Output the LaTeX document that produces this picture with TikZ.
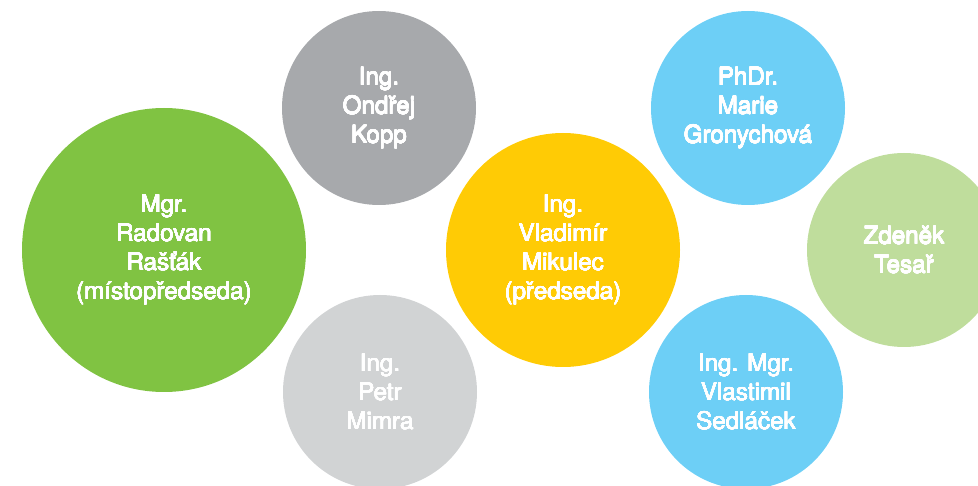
\documentclass[tikz,border=0pt]{standalone}
\usepackage{fontspec}
\setmainfont{TeX Gyre Heros}
\usepackage[copies]{contour}
\contourlength{0.2pt}
\contournumber{16}
\newcommand{\bl}[1]{\contour{white}{#1}}
\definecolor{cgreen}{HTML}{80C342}
\definecolor{cgray}{HTML}{A7A9AC}
\definecolor{clgray}{HTML}{D1D3D4}
\definecolor{cyellow}{HTML}{FFCB05}
\definecolor{cblue}{HTML}{6DCFF6}
\definecolor{clgreen}{HTML}{BFDD9C}
\tikzset{
  bubble/.style={circle, inner sep=0pt, text=white, align=center,
    font=\fontsize{24.2}{29}\selectfont},
}
\begin{document}
\begin{tikzpicture}[x=1pt,y=-1pt]
\useasboundingbox (0,0) rectangle (978,486);
\clip (0,0) rectangle (978,486);
\node[bubble, fill=cgreen, minimum size=284pt] (rastak) at (164,250) {\bl{Mgr.}\\\bl{Radovan}\\\bl{Rašťák}\\\bl{(místopředseda)}};
\node[bubble, fill=cgray, minimum size=194pt] (kopp) at (379,108) {\bl{Ing.}\\\bl{Ondřej}\\\bl{Kopp}};
\node[bubble, fill=clgray, minimum size=194pt] (mimra) at (380,392) {\bl{Ing.}\\\bl{Petr}\\\bl{Mimra}};
\node[bubble, fill=cyellow, minimum size=234pt] (mikulec) at (563,250) {\bl{Ing.}\\\bl{Vladimír}\\\bl{Mikulec}\\\bl{(předseda)}};
\node[bubble, fill=cblue, minimum size=194pt] (gron) at (748,108) {\bl{PhDr.}\\\bl{Marie}\\\bl{Gronychová}};
\node[bubble, fill=cblue, minimum size=194pt] (sedlacek) at (746,392) {\bl{Ing. Mgr.}\\\bl{Vlastimil}\\\bl{Sedláček}};
\node[bubble, fill=clgreen, minimum size=194pt] (tesar) at (904,250) {\bl{Zdeněk}\\\bl{Tesař}};
\end{tikzpicture}
\end{document}
